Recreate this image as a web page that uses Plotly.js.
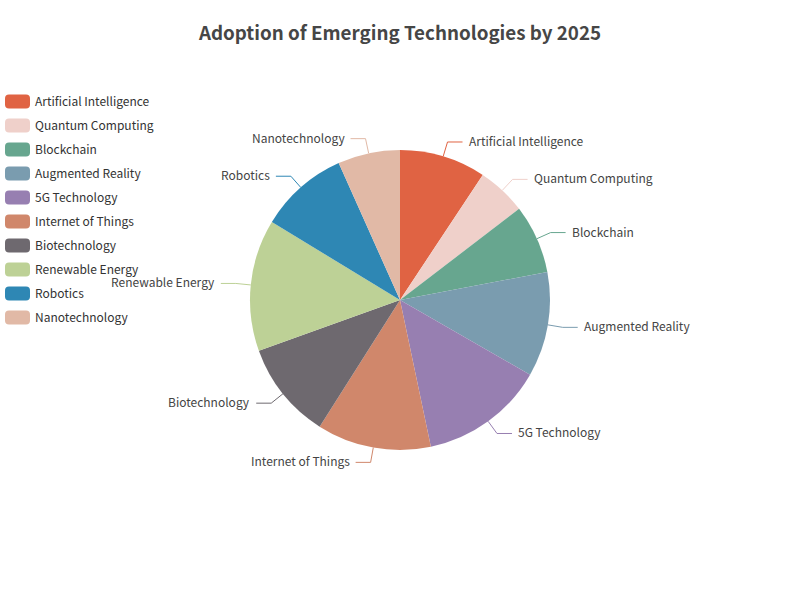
<!DOCTYPE html>
<html>
<head>
<meta charset="utf-8">
<script src="https://cdn.plot.ly/plotly-3.0.1.min.js"></script>
<style>html,body{margin:0;padding:0;background:#fff;}#chart{width:800px;height:600px;}</style>
</head>
<body>
<div id="chart"></div>
<script>
const categories = ["Artificial Intelligence","Quantum Computing","Blockchain","Augmented Reality","5G Technology","Internet of Things","Biotechnology","Renewable Energy","Robotics","Nanotechnology"];
const adoption = [9.3, 5.3, 7.4, 11.3, 13.4, 12.3, 10.5, 14.2, 9.6, 6.7];
const colors = ["#e06343","#efd0ca","#67a68f","#7a9caf","#977fb1","#d0876b","#6e696f","#bdd196","#2e87b4","#e1b9a6"];
const FONT = "'Noto Sans CJK SC', 'Noto Sans', sans-serif";
const LABEL_LEN1 = 15, LABEL_LEN2 = 15, LABEL_GAP = 5;

const pieTrace = {
  type: "pie",
  labels: categories,
  values: adoption,
  sort: false,
  direction: "clockwise",
  rotation: 0,
  marker: {colors: colors, line: {width: 0}},
  textinfo: "none",
  showlegend: false,
  domain: {x: [0.3125, 0.6875], y: [0.25, 0.75]},
  hoverinfo: "label+value+percent"
};

// legend entries (one per category, styled as colored bars)
const legendTraces = categories.map((c, i) => ({
  type: "scatter", mode: "lines",
  x: [null], y: [null],
  name: c, legendgroup: "g" + i,
  line: {color: colors[i], width: 14},
  hoverinfo: "skip"
}));

const layout = {
  width: 800, height: 600,
  margin: {l: 0, r: 0, t: 0, b: 0},
  paper_bgcolor: "#fff",
  plot_bgcolor: "rgba(0,0,0,0)",
  font: {family: FONT, color: "#333"},
  title: {text: "<b>Adoption of Emerging Technologies by 2025</b>", x: 0.5, xanchor: "center", y: 0.945, yanchor: "middle", font: {family: FONT, size: 18.8, color: "#464646"}},
  xaxis: {visible: false}, yaxis: {visible: false},
  showlegend: true,
  legend: {x: 0, xanchor: "left", y: 0.855, yanchor: "top", tracegroupgap: 5, traceorder: "grouped",
           font: {family: FONT, size: 12, color: "#333"}, bgcolor: "rgba(0,0,0,0)"}
};

function tweakLegend() {
  gd.querySelectorAll(".legend .traces").forEach(function (g, i) {
    const ln = g.querySelector("path.js-line");
    if (ln) {
      const col = ln.style.stroke || colors[i];
      ln.setAttribute("d", "M9,-7h17a4,4 0 0 1 4,4v6a4,4 0 0 1 -4,4h-17a4,4 0 0 1 -4,-4v-6a4,4 0 0 1 4,-4z");
      ln.style.fill = col;
      ln.style.fillOpacity = "1";
      ln.style.strokeWidth = "0";
    }
    const t = g.querySelector("text.legendtext");
    if (t) t.setAttribute("x", "35");
  });
}

const gd = document.getElementById("chart");
Plotly.newPlot(gd, [pieTrace].concat(legendTraces), layout, {displayModeBar: false}).then(function () {
  const sz = gd._fullLayout._size;
  const cd = gd.calcdata[0];
  const cx = cd[0].cx, cy = cd[0].cy, r = cd[0].r;
  const total = adoption.reduce((a, b) => a + b, 0);
  const toX = px => (px - sz.l) / sz.w;
  const toY = py => 1 - (py - sz.t) / sz.h;
  const shapes = [], annotations = [];
  let acc = 0;
  adoption.forEach((v, i) => {
    let mid = (cd[i] && typeof cd[i].midangle === "number") ? cd[i].midangle : 2 * Math.PI * (acc + v / 2) / total;
    acc += v;
    const s = Math.sin(mid), c = -Math.cos(mid);
    const x0 = cx + r * s, y0 = cy + r * c;
    const x1 = cx + (r + LABEL_LEN1) * s, y1 = cy + (r + LABEL_LEN1) * c;
    const dir = s >= 0 ? 1 : -1;
    const x2 = x1 + dir * LABEL_LEN2, y2 = y1;
    shapes.push({
      type: "path", xref: "paper", yref: "paper",
      path: `M ${toX(x0)} ${toY(y0)} L ${toX(x1)} ${toY(y1)} L ${toX(x2)} ${toY(y2)}`,
      line: {color: colors[i], width: 1}
    });
    annotations.push({
      xref: "paper", yref: "paper", showarrow: false,
      x: toX(x2 + dir * LABEL_GAP), y: toY(y2), yshift: 1.5,
      xanchor: dir > 0 ? "left" : "right", yanchor: "middle",
      text: categories[i], borderpad: 0,
      font: {family: FONT, size: 12, color: "#444"}
    });
  });
  return Plotly.relayout(gd, {shapes: shapes, annotations: annotations});
}).then(tweakLegend);
</script>
</body>
</html>
